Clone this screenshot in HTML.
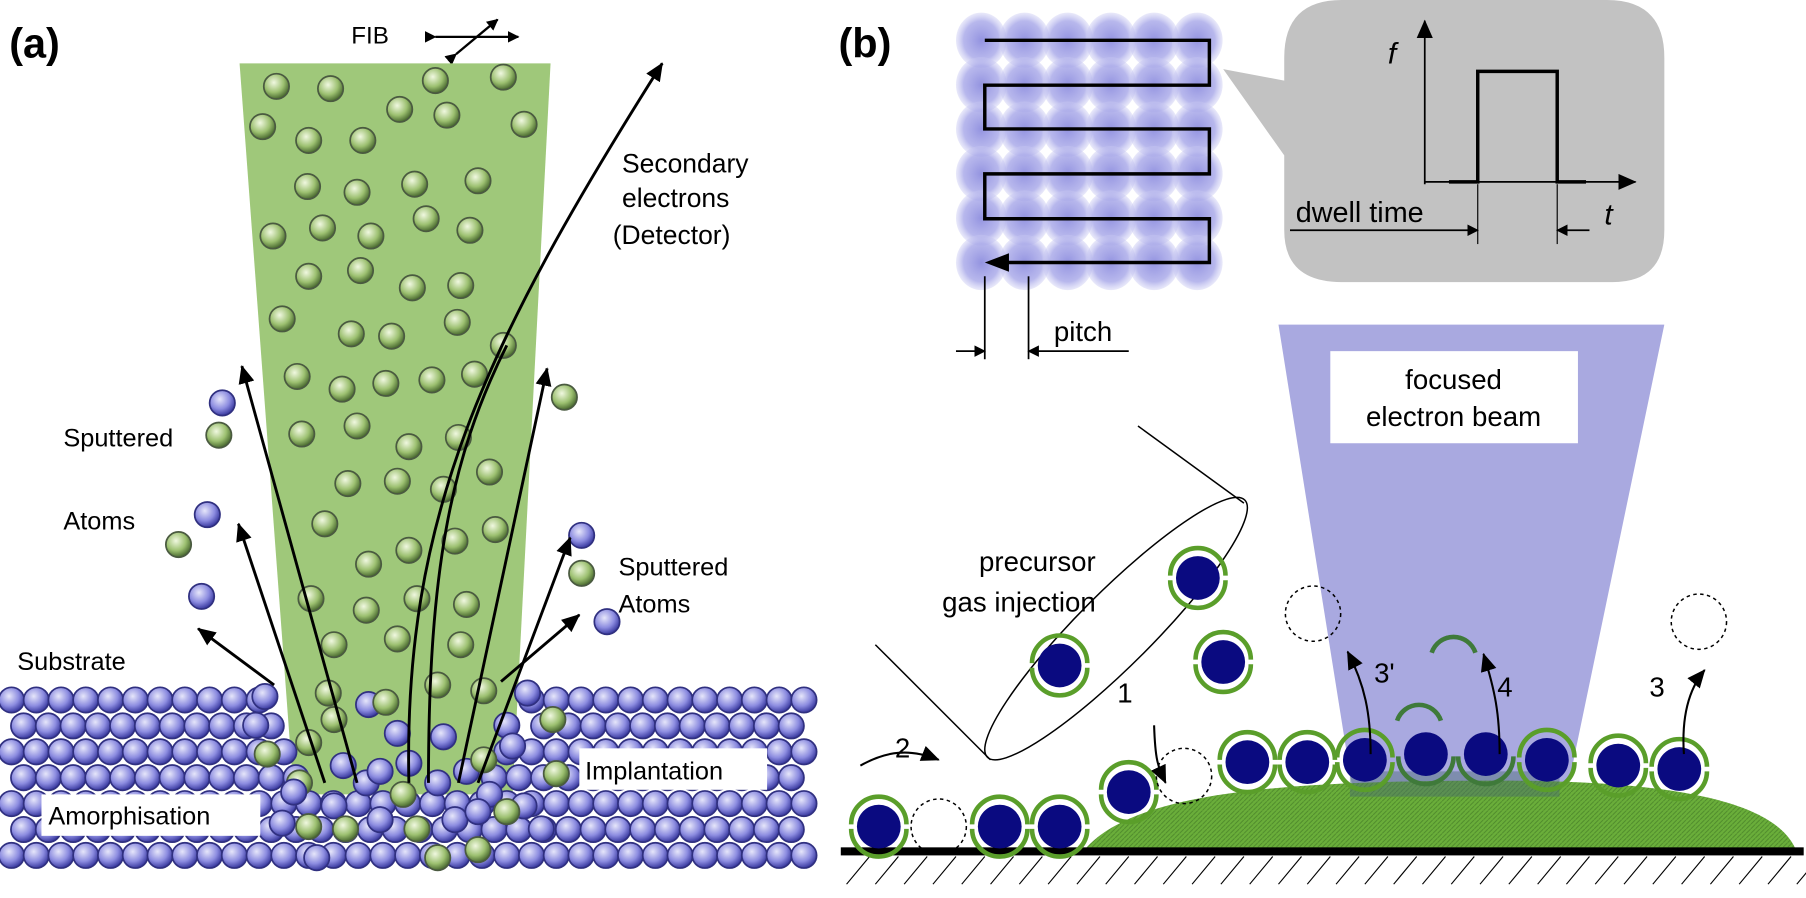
<!DOCTYPE html>
<html><head><meta charset="utf-8"><style>
html,body{margin:0;padding:0;background:#fff;}
svg{display:block;}
text{font-family:"Liberation Sans",sans-serif;}
</style></head><body>
<svg id="s" width="1806" height="898" viewBox="0 0 1568 780" preserveAspectRatio="none" xmlns="http://www.w3.org/2000/svg">
<defs>
<radialGradient id="gb" cx="40%" cy="35%" r="65%"><stop offset="0" stop-color="#e6e6fa"/><stop offset="0.6" stop-color="#8c8ce0"/><stop offset="1" stop-color="#3a3aa0"/></radialGradient>
<radialGradient id="gg" cx="40%" cy="35%" r="65%"><stop offset="0" stop-color="#f0f8e0"/><stop offset="0.6" stop-color="#9cc070"/><stop offset="1" stop-color="#4a6a30"/></radialGradient>
<radialGradient id="gc" cx="50%" cy="50%" r="50%"><stop offset="0" stop-color="#8888dd" stop-opacity="0.9"/><stop offset="0.7" stop-color="#a6a6e8" stop-opacity="0.8"/><stop offset="1" stop-color="#c8c8f2" stop-opacity="0.4"/></radialGradient>
<marker id="ar" markerWidth="10" markerHeight="10" refX="9" refY="5" orient="auto" markerUnits="userSpaceOnUse"><path d="M0,0 L10,5 L0,10 Z" fill="#000"/></marker>
<marker id="ab" markerWidth="16" markerHeight="14" refX="15" refY="7" orient="auto" markerUnits="userSpaceOnUse"><path d="M0,0 L16,7 L0,14 Z" fill="#000"/></marker>
<pattern id="mesh" width="4" height="4" patternUnits="userSpaceOnUse"><rect width="4" height="4" fill="#6aae3a"/><path d="M0,4 L4,0" stroke="#4f8a2c" stroke-width="0.8"/></pattern>
</defs>
<!-- panel a -->
<text x="8" y="50" font-size="36" font-weight="bold">(a)</text>
<text x="305" y="38" font-size="21">FIB</text>
<line x1="378" y1="32" x2="450" y2="32" stroke="#000" stroke-width="2" marker-end="url(#ar)" marker-start="url(#ar)"/>
<line x1="396" y1="47" x2="432" y2="17" stroke="#000" stroke-width="2" marker-end="url(#ar)" marker-start="url(#ar)"/>
<polygon points="208,55 478,55 445,690 255,690" fill="#9fc87a"/>
<g id="sub"></g>
<g id="beamatoms"></g>
<g stroke="#000" stroke-width="2.5" fill="none">
<line x1="310" y1="680" x2="210" y2="318" marker-end="url(#ab)"/>
<line x1="282" y1="680" x2="207" y2="455" marker-end="url(#ab)"/>
<line x1="238" y1="595" x2="172" y2="546" marker-end="url(#ab)"/>
<line x1="398" y1="680" x2="475" y2="320" marker-end="url(#ab)"/>
<line x1="415" y1="680" x2="495" y2="467" marker-end="url(#ab)"/>
<line x1="435" y1="592" x2="503" y2="534" marker-end="url(#ab)"/>
<path d="M355,680 C350,450 420,300 575,55" marker-end="url(#ab)"/>
<path d="M372,680 C372,500 390,400 440,300"/>
</g>
<text x="540" y="150" font-size="23">Secondary</text>
<text x="540" y="180" font-size="23">electrons</text>
<text x="532" y="212" font-size="23">(Detector)</text>
<text x="55" y="388" font-size="22">Sputtered</text>
<text x="55" y="460" font-size="22">Atoms</text>
<text x="537" y="500" font-size="22">Sputtered</text>
<text x="537" y="532" font-size="22">Atoms</text>
<text x="15" y="582" font-size="22">Substrate</text>
<rect x="503" y="650" width="163" height="36" fill="#fff"/>
<text x="508" y="677" font-size="22">Implantation</text>
<rect x="36" y="690" width="190" height="36" fill="#fff"/>
<text x="42" y="716" font-size="22">Amorphisation</text>

<!-- panel b -->
<text x="728" y="50" font-size="36" font-weight="bold">(b)</text>
<g id="grid"></g>
<polyline points="855,35 1050,35 1050,74 855,74 855,112 1050,112 1050,151 855,151 855,190 1050,190 1050,228 862,228" fill="none" stroke="#000" stroke-width="3"/>
<path d="M855,228 L876,220 L876,236 Z" fill="#000"/>
<line x1="855" y1="240" x2="855" y2="312" stroke="#000" stroke-width="1.5"/>
<line x1="893" y1="240" x2="893" y2="312" stroke="#000" stroke-width="1.5"/>
<line x1="830" y1="305" x2="855" y2="305" stroke="#000" stroke-width="1.5" marker-end="url(#ar)"/>
<line x1="980" y1="305" x2="893" y2="305" stroke="#000" stroke-width="1.5" marker-end="url(#ar)"/>
<text x="915" y="296" font-size="24">pitch</text>
<path d="M1165,0 L1395,0 Q1445,0 1445,50 L1445,200 Q1445,245 1400,245 L1165,245 Q1115,245 1115,200 L1115,135 L1062,60 L1115,70 L1115,50 Q1115,0 1165,0 Z" fill="#c2c2c2"/>
<line x1="1237" y1="160" x2="1237" y2="18" stroke="#000" stroke-width="1.5" marker-end="url(#ab)"/>
<line x1="1237" y1="158" x2="1420" y2="158" stroke="#000" stroke-width="1.5" marker-end="url(#ab)"/>
<polyline points="1258,158 1283,158 1283,62 1352,62 1352,158 1377,158" fill="none" stroke="#000" stroke-width="3"/>
<text x="1205" y="55" font-size="26" font-style="italic">f</text>
<text x="1393" y="195" font-size="26" font-style="italic">t</text>
<text x="1125" y="193" font-size="25">dwell time</text>
<line x1="1120" y1="200" x2="1283" y2="200" stroke="#000" stroke-width="1.5" marker-end="url(#ar)"/>
<line x1="1380" y1="200" x2="1352" y2="200" stroke="#000" stroke-width="1.5" marker-end="url(#ar)"/>
<line x1="1283" y1="160" x2="1283" y2="212" stroke="#000" stroke-width="1"/>
<line x1="1352" y1="160" x2="1352" y2="212" stroke="#000" stroke-width="1"/>

<polygon points="1110,282 1445,282 1360,690 1175,690" fill="#a9a9e0"/>
<rect x="1155" y="305" width="215" height="80" fill="#fff"/>
<text x="1262" y="338" font-size="24" text-anchor="middle">focused</text>
<text x="1262" y="370" font-size="24" text-anchor="middle">electron beam</text>

<path d="M940,740 C980,690 1100,678 1300,678 C1470,678 1545,700 1560,740 Z" fill="url(#mesh)"/>
<rect x="1172" y="670" width="182" height="22" fill="#4a6a70" opacity="0.45"/>
<rect x="730" y="736" width="836" height="7" fill="#000"/>
<g id="hatch" stroke="#000" stroke-width="1"></g>

<g fill="none" stroke="#000" stroke-width="1.3">
<path d="M760,560 L860,660"/>
<ellipse cx="969" cy="546" rx="158" ry="32" transform="rotate(-45 969 546)"/>
<path d="M988,370 L1080,437"/>
</g>
<text x="850" y="496" font-size="24">precursor</text>
<text x="818" y="531" font-size="24">gas injection</text>
<g id="mol"></g>
<g fill="none" stroke="#000" stroke-width="1.8">
<path d="M1002,630 C1003,660 1005,665 1012,680" marker-end="url(#ab)"/>
<path d="M747,665 C770,652 790,650 815,660" marker-end="url(#ab)"/>
<path d="M1190,655 C1190,620 1185,595 1170,566" marker-end="url(#ab)"/>
<path d="M1302,655 C1302,620 1298,600 1288,568" marker-end="url(#ab)"/>
<path d="M1462,655 C1460,625 1465,600 1480,582" marker-end="url(#ab)"/>
</g>
<text x="970" y="610" font-size="24">1</text>
<text x="777" y="658" font-size="24">2</text>
<text x="1193" y="593" font-size="24">3'</text>
<text x="1300" y="605" font-size="24">4</text>
<text x="1432" y="605" font-size="24">3</text>
<g fill="none" stroke="#3f7a3a" stroke-width="4">
<path d="M1243,567 A20,20 0 0 1 1281,567"/>
<path d="M1213,626 A20,20 0 0 1 1251,626"/>
</g>
</svg>
<script>
var NS="http://www.w3.org/2000/svg";
function el(p,t,a){var e=document.createElementNS(NS,t);for(var k in a)e.setAttribute(k,a[k]);p.appendChild(e);return e;}
var sub=document.getElementById("sub");
function atom(g,x,y,c){el(g,"circle",{cx:x,cy:y,r:11,fill:c?"url(#gg)":"url(#gb)",stroke:c?"#4a5a40":"#303080","stroke-width":1.5});}
for(var r=0;r<7;r++){var y=608+r*22.5;var off=(r%2)?10.5:0;
 for(var x=10+off;x<705;x+=21.5){
  var dx=(x-345)/112, dy=(y-600)/(r<2?95:(r<4?100:90));
  if(dx*dx+dy*dy<1 && r<6) continue;
  if(x>225&&x<250&&r==0)continue;
  atom(sub,x,y,false);}}
var crater=[[230,605,0],[458,602,0],[440,630,0],[222,630,0],[232,655,1],[268,645,1],[298,665,0],[318,680,0],[260,680,1],[290,700,0],[330,670,0],[355,663,0],[380,680,0],[405,670,0],[420,660,1],[445,648,0],[480,625,1],[483,672,1],[455,700,0],[425,690,0],[350,690,1],[300,720,1],[268,718,1],[330,712,0],[362,720,1],[395,712,0],[380,745,1],[415,738,1],[470,720,0],[440,705,1],[255,688,0],[245,715,0],[290,625,1],[320,612,0],[345,637,0],[385,640,0],[415,705,0],[275,745,0]];
crater.forEach(function(a){atom(sub,a[0],a[1],a[2]);});
var ba=document.getElementById("beamatoms");
[[240,75],[287,77],[378,70],[437,67],[228,110],[268,122],[315,122],[347,95],[388,100],[455,108],[267,162],[310,167],[360,160],[415,157],[237,205],[280,198],[322,205],[370,190],[408,200],[268,240],[313,235],[358,250],[400,248],[245,277],[305,290],[340,292],[397,280],[437,300],[258,327],[297,338],[335,333],[375,330],[412,325],[262,377],[310,370],[355,388],[398,380],[302,420],[345,418],[385,425],[425,410],[282,455],[320,490],[355,478],[395,470],[430,460],[270,520],[318,530],[362,520],[405,525],[290,560],[345,555],[400,560],[285,602],[335,610],[380,595],[420,600],[490,345],[190,378],[155,473],[505,498]].forEach(function(p){atom(ba,p[0],p[1],1);});
[[193,350],[180,447],[175,518],[505,465],[527,540]].forEach(function(p){atom(ba,p[0],p[1],0);});
var g=document.getElementById("grid");
for(var i=0;i<6;i++)for(var j=0;j<6;j++){el(g,"ellipse",{cx:852+i*37.5,cy:35+j*38.6,rx:22,ry:24,fill:"url(#gc)"});}
var h=document.getElementById("hatch");
for(var x=735;x<1566;x+=25){el(h,"line",{x1:x,y1:768,x2:x+20,y2:744});}
var m=document.getElementById("mol");
function mol(x,y,ring,half){
 el(m,"circle",{cx:x,cy:y,r:19,fill:"#0a0a80"});
 if(ring){el(m,"path",{d:"M"+(x-24)+","+(y-2)+" A24,24 0 0 1 "+(x+24)+","+(y-2),fill:"none",stroke:"#5a9e2a","stroke-width":4});
 el(m,"path",{d:"M"+(x-24)+","+(y+2)+" A24,24 0 0 0 "+(x+24)+","+(y+2),fill:"none",stroke:"#5a9e2a","stroke-width":4});}
 if(half){el(m,"path",{d:"M"+(x-24)+","+(y+2)+" A24,24 0 0 0 "+(x+24)+","+(y+2),fill:"none",stroke:"#3f7a3a","stroke-width":4});}
}
function dash(x,y){el(m,"circle",{cx:x,cy:y,r:24,fill:"none",stroke:"#000","stroke-width":1.3,"stroke-dasharray":"3,3"});}
[[763,718],[868,718],[920,718],[980,688],[1083,662],[1135,662],[1185,660],[1343,660],[1405,665],[1458,668],[1040,502],[920,578],[1062,575]].forEach(function(p){mol(p[0],p[1],1,0);});
mol(1238,655,0,1);mol(1290,655,0,1);
dash(815,718);dash(1028,674);dash(1140,533);dash(1475,540);
</script>
</body></html>
